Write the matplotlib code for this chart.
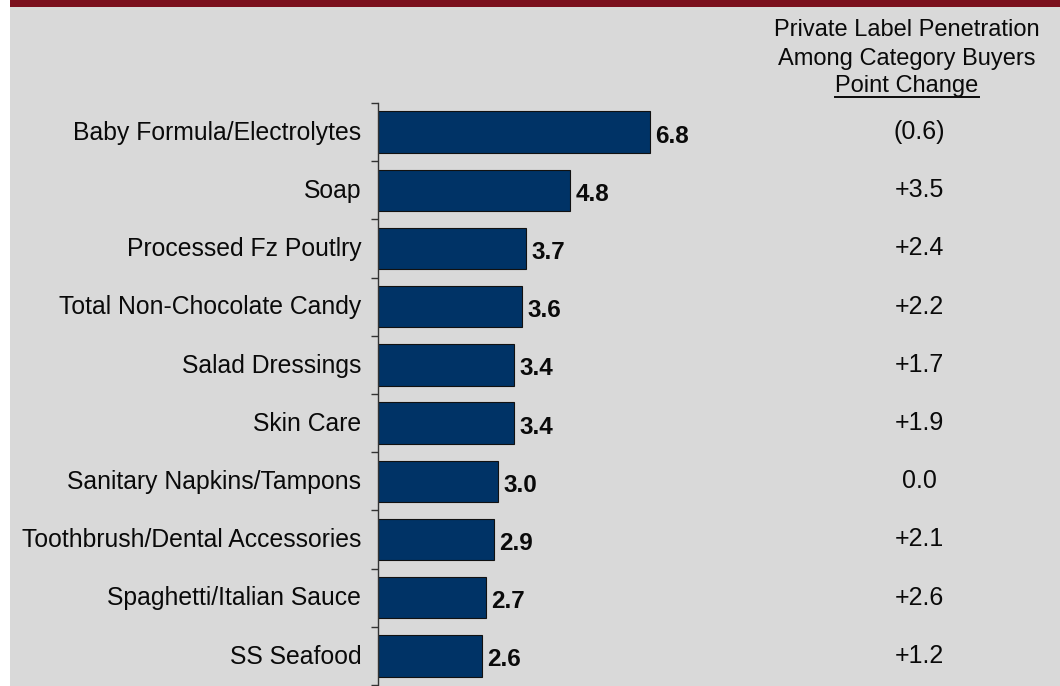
import matplotlib.pyplot as plt
from matplotlib.patches import Rectangle
from matplotlib.lines import Line2D
from matplotlib import transforms

plt.rcParams['font.family'] = ['Liberation Sans', 'DejaVu Sans']

categories = ['Baby Formula/Electrolytes', 'Soap', 'Processed Fz Poutlry',
              'Total Non-Chocolate Candy', 'Salad Dressings', 'Skin Care',
              'Sanitary Napkins/Tampons', 'Toothbrush/Dental Accessories',
              'Spaghetti/Italian Sauce', 'SS Seafood']
values = [6.8, 4.8, 3.7, 3.6, 3.4, 3.4, 3.0, 2.9, 2.7, 2.6]
point_change = ['(0.6)', '+3.5', '+2.4', '+2.2', '+1.7', '+1.9', '0.0', '+2.1', '+2.6', '+1.2']
header_lines = ['Private Label Penetration', 'Among Category Buyers']
header_under = 'Point Change'

BG = '#d9d9d9'
RED = '#7b101d'
NAVY = '#003366'

W, H = 1060, 686
fig = plt.figure(figsize=(W / 100, H / 100), dpi=100)
fig.patch.set_facecolor('white')

# gray panel + red band on top
fig.add_artist(Rectangle((10 / W, 0), 1 - 10 / W, 1, transform=fig.transFigure,
                         facecolor=BG, edgecolor='none', zorder=-10))
fig.add_artist(Rectangle((10 / W, 1 - 7 / H), 1 - 10 / W, 7 / H, transform=fig.transFigure,
                         facecolor=RED, edgecolor='none', zorder=-9))

ax = fig.add_axes([378 / W, 1 / H, 440 / W, 582 / H])
ax.set_facecolor('none')

n = len(categories)
ypos = list(range(n))
ax.barh(ypos, values, height=0.71, color=NAVY, edgecolor='#111111', linewidth=0.8)

ax.set_xlim(0, 11)
ax.set_ylim(n - 0.5, -0.5)
for s in ['top', 'right', 'bottom']:
    ax.spines[s].set_visible(False)
ax.spines['left'].set_color('#333333')
ax.spines['left'].set_linewidth(1.0)
ax.set_xticks([])
ax.set_yticks([i - 0.5 for i in range(n + 1)])
ax.set_yticklabels([])
ax.tick_params(axis='y', direction='out', length=5, width=1.0, color='#333333')

for i, (cat, v) in enumerate(zip(categories, values)):
    ax.text(-0.42, i + 0.134, cat, ha='right', va='baseline', fontsize=17.8,
            color='#0a0a0a', clip_on=False)
    ax.text(v + 0.13, i + 0.18, f'{v:.1f}', ha='left', va='baseline', fontsize=17.5,
            fontweight='bold', color='#0a0a0a', clip_on=False)

tr = transforms.blended_transform_factory(fig.transFigure, ax.transData)
for i, pc in enumerate(point_change):
    ax.text(919 / W, i + 0.117, pc, transform=tr, ha='center', va='baseline',
            fontsize=18, color='#0a0a0a', clip_on=False)

for k, line in enumerate(header_lines):
    fig.text(907 / W, 1 - (36 + 29 * k) / H, line, ha='center', va='baseline',
             fontsize=17, color='#0a0a0a')
t = fig.text(907 / W, 1 - 92 / H, header_under, ha='center', va='baseline',
             fontsize=17, color='#0a0a0a')

fig.canvas.draw()
bb = t.get_window_extent().transformed(fig.transFigure.inverted())
fig.add_artist(Line2D([bb.x0, bb.x1], [1 - 96.5 / H, 1 - 96.5 / H],
                      transform=fig.transFigure, color='#0a0a0a', linewidth=1.4))

fig.savefig('out.png', dpi=100, facecolor=fig.get_facecolor())
